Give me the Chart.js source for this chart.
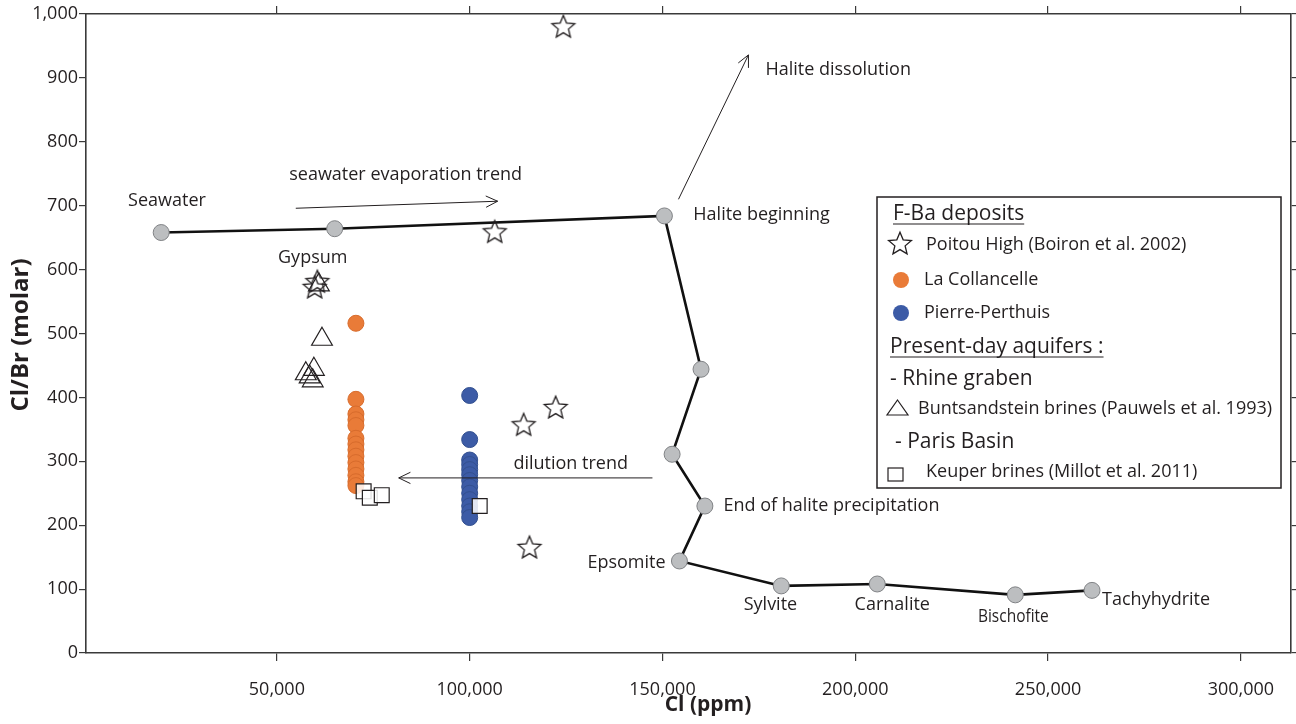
<!DOCTYPE html>
<html>
<head>
<meta charset="utf-8">
<title>Cl/Br vs Cl</title>
<script src="https://cdn.jsdelivr.net/npm/chart.js@4.4.0/dist/chart.umd.min.js"></script>
<style>
  html, body { margin: 0; padding: 0; background: #fff; }
  #chart { display: block; }
</style>
</head>
<body>
<canvas id="chart" width="1296" height="724"></canvas>
<script>
// axis ticks
const xTicks = [50000, 100000, 150000, 200000, 250000, 300000];
const yTicks = [0, 100, 200, 300, 400, 500, 600, 700, 800, 900, 1000];

// seawater evaporation path
const pathCl    = [20000, 65000, 150500, 160000, 152500, 161000, 154400, 180800, 205700, 241500, 261400];
const pathRatio = [658, 664, 684, 444, 311, 230, 144, 105, 108, 91, 98];

// F-Ba deposits
const poitouCl    = [124300, 106500, 60500, 59800, 114000, 122300, 115500];
const poitouRatio = [981, 660, 582, 573, 358, 385, 166];

const collancelleCl    = 70500;
const collancelleRatio = [516, 397, 374, 365, 356, 336, 327, 318, 308, 298, 288, 278, 268, 262];

const perthuisCl    = 100000;
const perthuisRatio = [403, 334, 302, 295, 287, 279, 270, 260, 250, 240, 230, 221, 212];

// present-day aquifers
const buntCl    = [61700, 57500, 59600, 59300, 58500, 60900];
const buntRatio = [491, 437, 444, 426, 432, 576];

const keuperCl    = [72500, 74100, 77200, 102600];
const keuperRatio = [253, 243, 247, 230];

const INK = '#231f20';
const FONT = '"Open Sans", "Noto Sans", sans-serif';

function toPoints(xs, ys) {
    return ys.map((y, i) => ({ x: Array.isArray(xs) ? xs[i] : xs, y: y }));
}

function makeStar(r) {
    const c = document.createElement('canvas');
    const s = Math.ceil(2 * r + 4);
    c.width = s; c.height = s;
    const g = c.getContext('2d');
    g.translate(s / 2, s / 2 + r * 0.1);
    g.beginPath();
    for (let i = 0; i < 10; i++) {
        const rad = i % 2 ? r * 0.45 : r;
        const a = -Math.PI / 2 + i * Math.PI / 5;
        g.lineTo(rad * Math.cos(a), rad * Math.sin(a));
    }
    g.closePath();
    g.strokeStyle = INK;
    g.lineWidth = 1.3;
    g.stroke();
    return c;
}
const starImg = makeStar(12);

// annotation texts (data coordinates)
const pathLabels = [
    { text: 'Seawater', x: 21500, y: 707, align: 'center' },
    { text: 'Gypsum', x: 59300, y: 618, align: 'center' },
    { text: 'Halite beginning', x: 158000, y: 685, align: 'left' },
    { text: 'End of halite precipitation', x: 165800, y: 230, align: 'left' },
    { text: 'Epsomite', x: 150800, y: 141, align: 'right' },
    { text: 'Sylvite', x: 178000, y: 75, align: 'center' },
    { text: 'Carnalite', x: 209600, y: 75, align: 'center' },
    { text: 'Bischofite', x: 241000, y: 56, align: 'center', squeeze: 0.86 },
    { text: 'Tachyhydrite', x: 264000, y: 83, align: 'left' },
    { text: 'seawater evaporation trend', x: 83400, y: 748, align: 'center' },
    { text: 'Halite dissolution', x: 176700, y: 912, align: 'left' },
    { text: 'dilution trend', x: 126200, y: 296, align: 'center' }
];
const arrows = [
    { x1: 54900, y1: 696, x2: 107250, y2: 707 },
    { x1: 154150, y1: 710, x2: 172300, y2: 936 },
    { x1: 147400, y1: 274, x2: 81600, y2: 274 }
];

function drawArrow(ctx, x1, y1, x2, y2) {
    const a = Math.atan2(y2 - y1, x2 - x1);
    const L = 13, w = 0.45;
    ctx.beginPath();
    ctx.moveTo(x1, y1); ctx.lineTo(x2, y2);
    ctx.moveTo(x2 - L * Math.cos(a - w), y2 - L * Math.sin(a - w));
    ctx.lineTo(x2, y2);
    ctx.lineTo(x2 - L * Math.cos(a + w), y2 - L * Math.sin(a + w));
    ctx.stroke();
}

const annotationPlugin = {
    id: 'annotations',
    afterDatasetsDraw(chart) {
        const ctx = chart.ctx;
        const xs = chart.scales.x, ys = chart.scales.y;
        ctx.save();
        ctx.fillStyle = INK;
        ctx.strokeStyle = INK;
        ctx.lineWidth = 1;
        ctx.textBaseline = 'middle';
        pathLabels.forEach(l => {
            ctx.font = '18px ' + FONT;
            ctx.textAlign = l.align;
            const px = xs.getPixelForValue(l.x), py = ys.getPixelForValue(l.y);
            if (l.squeeze) {
                ctx.save();
                ctx.translate(px, py);
                ctx.scale(l.squeeze, 1);
                ctx.fillText(l.text, 0, 0);
                ctx.restore();
            } else {
                ctx.fillText(l.text, px, py);
            }
        });
        arrows.forEach(a => drawArrow(ctx,
            xs.getPixelForValue(a.x1), ys.getPixelForValue(a.y1),
            xs.getPixelForValue(a.x2), ys.getPixelForValue(a.y2)));

        // axis titles
        ctx.font = 'bold 21px ' + FONT;
        ctx.textAlign = 'center';
        ctx.fillText('Cl (ppm)', 708, 705);
        ctx.save();
        ctx.translate(21, 335);
        ctx.rotate(-Math.PI / 2);
        ctx.font = 'bold 24px ' + FONT;
        ctx.fillText('Cl/Br (molar)', 0, 0);
        ctx.restore();

        // legend box
        ctx.fillStyle = '#fff';
        ctx.fillRect(877, 197, 404, 291);
        ctx.lineWidth = 1.5;
        ctx.strokeRect(877, 197, 404, 291);
        ctx.fillStyle = INK;
        ctx.textAlign = 'left';
        ctx.lineWidth = 1.2;

        const header = (t, x, y) => {
            ctx.font = '21px ' + FONT;
            ctx.fillText(t, x, y);
            const w = ctx.measureText(t).width;
            ctx.beginPath(); ctx.moveTo(x, y + 10); ctx.lineTo(x + w, y + 10); ctx.stroke();
        };
        header('F-Ba deposits', 893, 214);
        header('Present-day aquifers :', 890, 347);
        ctx.font = '21px ' + FONT;
        ctx.fillText('- Rhine graben', 890, 379);
        ctx.fillText('- Paris Basin', 895, 442);

        ctx.font = '18px ' + FONT;
        ctx.drawImage(starImg, 900 - starImg.width / 2, 243 - starImg.height / 2);
        ctx.fillText('Poitou High (Boiron et al. 2002)', 926, 245);

        ctx.fillStyle = '#e97b38';
        ctx.beginPath(); ctx.arc(901, 280, 8, 0, Math.PI * 2); ctx.fill();
        ctx.fillStyle = '#3c5ba6';
        ctx.beginPath(); ctx.arc(901, 313, 8, 0, Math.PI * 2); ctx.fill();
        ctx.fillStyle = INK;
        ctx.fillText('La Collancelle', 924, 280);
        ctx.fillText('Pierre-Perthuis', 924, 313);

        ctx.beginPath();
        ctx.moveTo(897.5, 400); ctx.lineTo(908, 415); ctx.lineTo(887, 415); ctx.closePath();
        ctx.stroke();
        ctx.fillText('Buntsandstein brines (Pauwels et al. 1993)', 918, 409);

        ctx.strokeRect(888, 468, 15, 13);
        ctx.fillText('Keuper brines (Millot et al. 2011)', 926, 472);
        ctx.restore();
    }
};

function fixedTicks(list) {
    return scale => { scale.ticks = list.map(v => ({ value: v })); };
}
function noSidePadding(scale) {
    scale.paddingLeft = 0;
    scale.paddingRight = 0;
}

const axisBorder = { display: true, color: '#3a3a3a', width: 1.6 };
const tickGrid = { drawOnChartArea: false, drawTicks: true, tickLength: 7, color: '#3a3a3a', lineWidth: 1.2 };
const tickFont = { family: FONT, size: 18 };

new Chart(document.getElementById('chart'), {
    type: 'scatter',
    data: {
        datasets: [
            {
                label: 'Keuper brines (Millot et al. 2011)',
                data: toPoints(keuperCl, keuperRatio),
                pointStyle: 'rect',
                pointRadius: 10.5,
                backgroundColor: 'rgba(255,255,255,0.85)',
                borderColor: INK,
                borderWidth: 1.2,
                order: 1
            },
            {
                label: 'Buntsandstein brines (Pauwels et al. 1993)',
                data: toPoints(buntCl, buntRatio),
                pointStyle: 'triangle',
                pointRadius: 12,
                backgroundColor: 'rgba(0,0,0,0)',
                borderColor: INK,
                borderWidth: 1.2,
                order: 2
            },
            {
                label: 'Poitou High (Boiron et al. 2002)',
                data: toPoints(poitouCl, poitouRatio),
                pointStyle: starImg,
                pointRadius: 12,
                order: 3
            },
            {
                label: 'Pierre-Perthuis',
                data: toPoints(perthuisCl, perthuisRatio),
                pointRadius: 8,
                backgroundColor: '#3c5ba6',
                borderColor: '#33508f',
                borderWidth: 1,
                order: 4
            },
            {
                label: 'La Collancelle',
                data: toPoints(collancelleCl, collancelleRatio),
                pointRadius: 8,
                backgroundColor: '#e97b38',
                borderColor: '#d76b2c',
                borderWidth: 1,
                order: 5
            },
            {
                label: 'Seawater evaporation',
                data: toPoints(pathCl, pathRatio),
                showLine: true,
                borderColor: '#111',
                borderWidth: 2.6,
                pointRadius: 8,
                pointBackgroundColor: '#bcbec0',
                pointBorderColor: '#808285',
                pointBorderWidth: 1,
                order: 6
            }
        ]
    },
    options: {
        responsive: false,
        animation: false,
        events: [],
        layout: { padding: 0, autoPadding: false },
        plugins: { legend: { display: false }, tooltip: { enabled: false } },
        scales: {
            x: {
                type: 'linear', position: 'bottom', min: 500, max: 313000,
                afterBuildTicks: fixedTicks(xTicks),
                afterFit: s => { s.height = 71; noSidePadding(s); },
                border: axisBorder,
                grid: Object.assign({}, tickGrid, { tickLength: 8 }),
                ticks: { color: INK, font: tickFont, padding: 18, maxRotation: 0,
                         callback: v => v.toLocaleString('en-US') }
            },
            x2: {
                type: 'linear', position: 'top', min: 500, max: 313000,
                afterBuildTicks: fixedTicks(xTicks),
                afterFit: s => { s.height = 14; noSidePadding(s); },
                border: axisBorder,
                grid: Object.assign({}, tickGrid, { tickLength: 8 }),
                ticks: { display: false }
            },
            y: {
                type: 'linear', position: 'left', min: 0, max: 1000,
                afterBuildTicks: fixedTicks(yTicks),
                afterFit: s => { s.width = 86; s.paddingTop = 0; s.paddingBottom = 0; },
                border: axisBorder,
                grid: tickGrid,
                ticks: { color: INK, font: tickFont, padding: 1,
                         callback: v => v.toLocaleString('en-US') }
            },
            y2: {
                type: 'linear', position: 'right', min: 0, max: 1000,
                afterBuildTicks: fixedTicks(yTicks),
                afterFit: s => { s.width = 5; s.paddingTop = 0; s.paddingBottom = 0; },
                border: axisBorder,
                grid: Object.assign({}, tickGrid, { tickLength: 6 }),
                ticks: { display: false }
            }
        }
    },
    plugins: [annotationPlugin]
});
</script>
</body>
</html>
